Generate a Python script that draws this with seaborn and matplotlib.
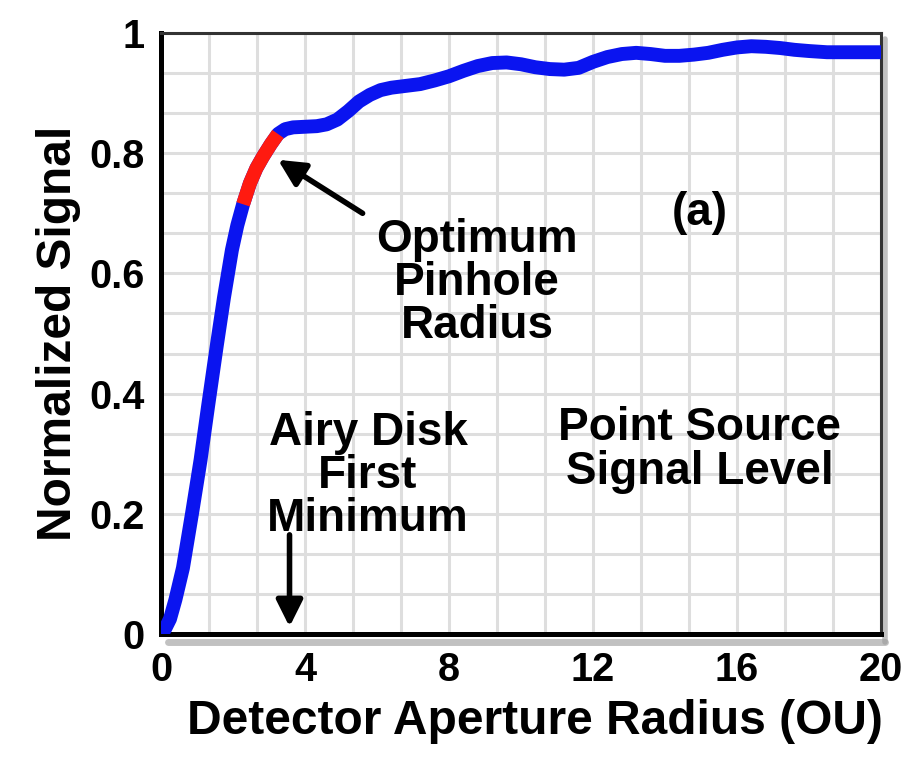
import numpy as np
import pandas as pd
import matplotlib
matplotlib.use("Agg")
import matplotlib.pyplot as plt
from matplotlib.ticker import MultipleLocator
import seaborn as sns

# ---- data ----
radius = [0, 0.1, 0.25, 0.4, 0.61, 0.86, 1.1, 1.31, 1.55, 1.75, 1.97, 2.12, 2.28, 2.47,
          2.65, 2.83, 3.05, 3.25, 3.45, 3.67, 4.0, 4.33, 4.6, 4.9, 5.2, 5.5, 5.8, 6.1,
          6.4, 6.8, 7.2, 7.6, 8.0, 8.4, 8.8, 9.2, 9.6, 10.0, 10.4, 10.8, 11.2, 11.6,
          12.0, 12.4, 12.8, 13.2, 13.6, 14.0, 14.4, 14.8, 15.2, 15.6, 16.0, 16.4, 16.8,
          17.2, 17.6, 18.0, 18.5, 19.0, 19.5, 20.0]
signal = [0, 0.007, 0.025, 0.057, 0.11, 0.2, 0.29, 0.38, 0.48, 0.56, 0.639, 0.68, 0.715, 0.75,
          0.775, 0.794, 0.815, 0.832, 0.84, 0.843, 0.844, 0.845, 0.848, 0.856, 0.87, 0.886, 0.897, 0.905,
          0.909, 0.912, 0.915, 0.921, 0.928, 0.937, 0.945, 0.95, 0.951, 0.948, 0.943, 0.94, 0.939, 0.942,
          0.952, 0.96, 0.965, 0.967, 0.965, 0.962, 0.962, 0.964, 0.967, 0.972, 0.976, 0.978, 0.977,
          0.975, 0.972, 0.97, 0.968, 0.968, 0.968, 0.968]
optimum_range = [2.28, 3.3]
x_ticks = [0, 4, 8, 12, 16, 20]
x_tick_labels = ["0", "4", "8", "12", "16", "20"]
y_ticks = [0, 0.2, 0.4, 0.6, 0.8, 1.0]
y_tick_labels = ["0", "0.2", "0.4", "0.6", "0.8", "1"]

df = pd.DataFrame({"radius": radius, "signal": signal})
opt = df[(df.radius >= optimum_range[0]) & (df.radius <= optimum_range[1])]

sns.set_style("white")
plt.rcParams['font.family'] = ['Liberation Sans', 'DejaVu Sans']
plt.rcParams['font.weight'] = 'bold'
for k in ["text.color", "axes.labelcolor", "xtick.color", "ytick.color"]:
    plt.rcParams[k] = "black"

fig = plt.figure(figsize=(9.08, 7.57), dpi=100)
ax = fig.add_axes([161/908, 123/757, 720/908, 601/757])

sns.lineplot(data=df, x="radius", y="signal", ax=ax, color="#0a14f0", linewidth=10,
             solid_capstyle="butt", solid_joinstyle="round", sort=False, estimator=None, zorder=3)
sns.lineplot(data=opt, x="radius", y="signal", ax=ax, color="#ff1a10", linewidth=10,
             solid_capstyle="butt", solid_joinstyle="round", sort=False, estimator=None, zorder=4)

ax.set_xlim(0, 20)
ax.set_ylim(0, 1)
ax.set_xticks(x_ticks)
ax.set_xticklabels(x_tick_labels)
ax.set_yticks(y_ticks)
ax.set_yticklabels(y_tick_labels)
ax.xaxis.set_minor_locator(MultipleLocator(4/3))
ax.yaxis.set_minor_locator(MultipleLocator(1/15))
ax.grid(True, which="both", color="#dedede", lw=2.2, zorder=0)
ax.set_axisbelow(True)
ax.tick_params(which="major", direction="in", length=9, width=2.8, color="black",
               labelsize=28.5, pad=12)
ax.tick_params(which="minor", length=0)
for lab in ax.get_xticklabels() + ax.get_yticklabels():
    lab.set_fontweight("bold")

ax.set_xlabel("Detector Aperture Radius (OU)", fontsize=34.5, fontweight="bold")
ax.set_ylabel("Normalized Signal", fontsize=34.5, fontweight="bold", labelpad=6)
ax.xaxis.set_label_coords(0.519, -0.108)

for s in ["left", "bottom"]:
    ax.spines[s].set_color("black")
    ax.spines[s].set_linewidth(3.6)
for s in ["top", "right"]:
    ax.spines[s].set_color("#333333")
    ax.spines[s].set_linewidth(2.2)

# shadow under bottom and right spines
ax.plot([0.01, 1.006], [-0.013, -0.013], transform=ax.transAxes, color="#999999",
        lw=5, alpha=0.6, clip_on=False, zorder=1)
ax.plot([1.006, 1.006], [-0.013, 0.99], transform=ax.transAxes, color="#999999",
        lw=4, alpha=0.6, clip_on=False, zorder=1)

txt = dict(fontsize=33, fontweight="bold", ha="center", va="center", linespacing=0.98)
ax.annotate("", xy=(3.25, 0.789), xytext=(5.6, 0.70),
            arrowprops=dict(arrowstyle="-|>", lw=4, color="black", mutation_scale=40,
                            shrinkA=0, shrinkB=0), zorder=5)
ax.annotate("", xy=(3.57, 0.012), xytext=(3.57, 0.165),
            arrowprops=dict(arrowstyle="-|>", lw=4, color="black", mutation_scale=40,
                            shrinkA=0, shrinkB=0), zorder=5)
ax.text(8.78, 0.584, "Optimum\nPinhole\nRadius", **txt)
ax.text(14.97, 0.70, "(a)", **txt)
ax.text(5.75, 0.263, "Airy Disk\nFirst\nMinimum", **txt)
ax.text(14.97, 0.306, "Point Source\nSignal Level", **txt)

fig.savefig("out.png", dpi=100, facecolor="white")
